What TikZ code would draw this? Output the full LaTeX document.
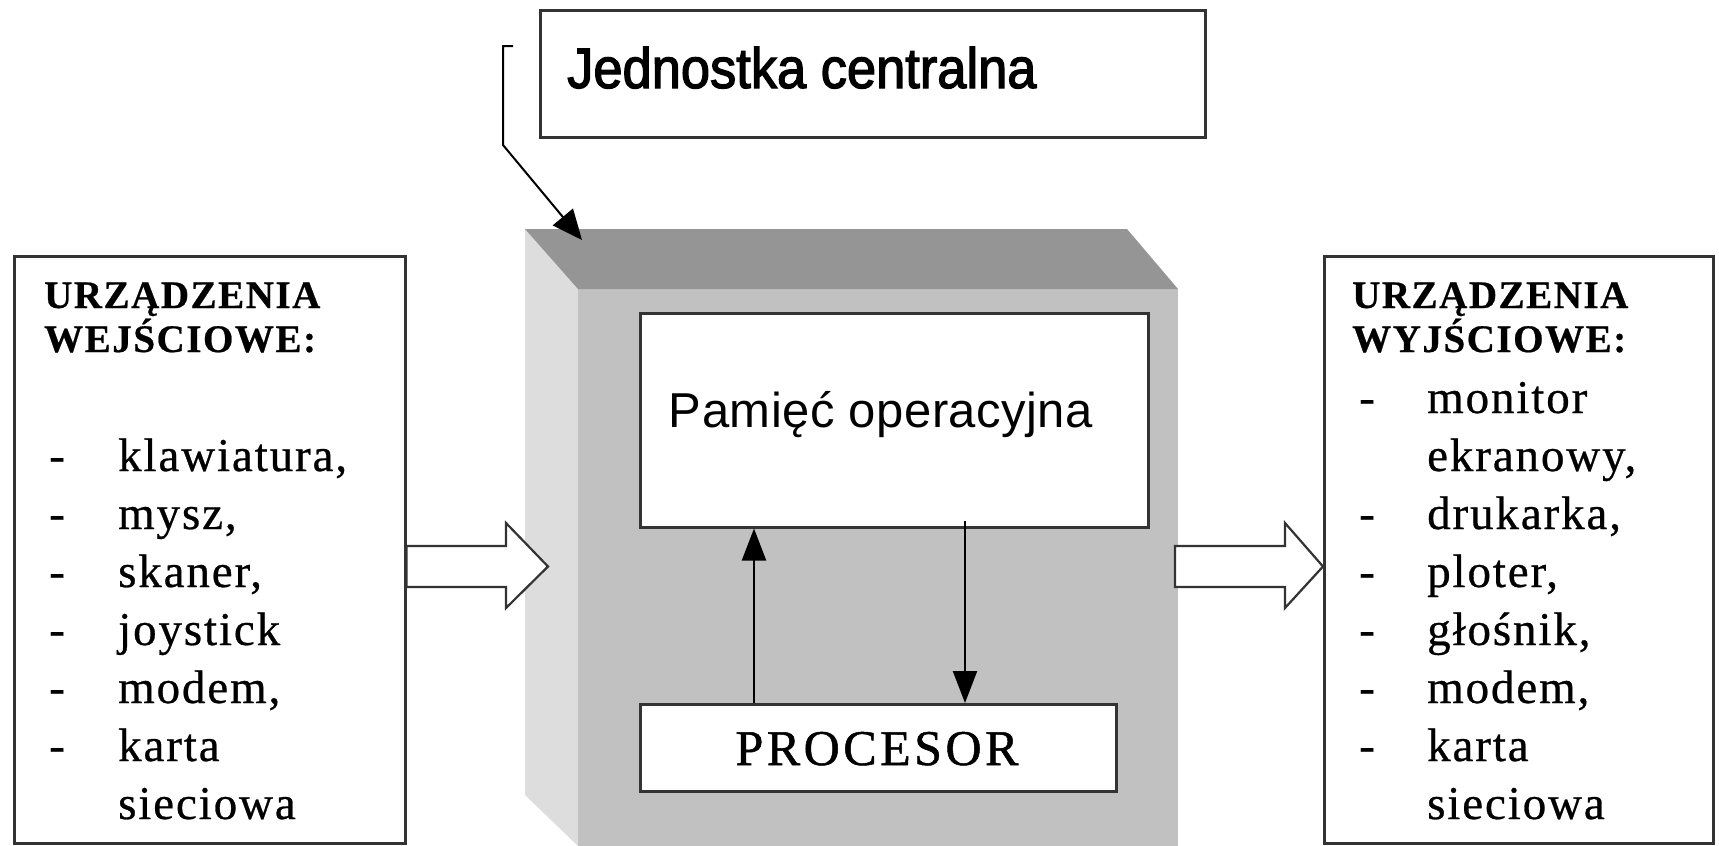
\documentclass[tikz,border=0pt]{standalone}
\usepackage{fontspec}
\setmainfont{Liberation Serif}
\newfontfamily\listfont[LetterSpace=4,FakeBold=0.6]{Liberation Serif}
\newfontfamily\procfont[LetterSpace=7,FakeBold=1]{Liberation Serif}
\newfontfamily\jcfont[FakeStretch=0.92,FakeBold=2.2]{Liberation Sans}
\newfontfamily\pamfont[LetterSpace=1]{Liberation Sans}
\usetikzlibrary{arrows.meta}
\definecolor{topface}{HTML}{959595}
\definecolor{leftface}{HTML}{DDDDDD}
\definecolor{frontface}{HTML}{C1C1C1}
\definecolor{edge}{HTML}{333333}
\tikzset{
  box/.style={draw=edge, line width=2.5pt, fill=white, inner sep=0pt, anchor=north west},
  txt/.style={inner sep=0pt, anchor=base west, text=black},
  listtxt/.style={txt, font=\listfont\fontsize{47}{58}\selectfont},
  headtxt/.style={txt, font=\listfont\bfseries\fontsize{39}{44}\selectfont},
  flow/.style={line width=2.2pt, draw=black, -{Triangle[length=32pt,width=24pt]}},
  hollow/.style={draw=edge, line width=2.2pt, fill=white, line join=miter},
}
\begin{document}
\begin{tikzpicture}[x=1pt,y=-1pt]
\useasboundingbox (0,0) rectangle (1719,846);
% 3D central unit
\fill[leftface] (525,229) -- (578,289) -- (578,846) -- (525,795) -- cycle;
\fill[frontface] (578,289) rectangle (1178,846);
\fill[topface] (525,229) -- (1127,229) -- (1178,289) -- (578,289) -- cycle;
\coordinate (ctip) at (582,240);

% boxes
\node[box, minimum width=665pt, minimum height=127pt] (jc) at (539,9) {};
\node[txt, font=\jcfont\fontsize{57}{60}\selectfont] (jct) at (567,88) {Jednostka centralna};

\node[box, minimum width=508pt, minimum height=214pt] (mem) at (639,312) {};
\node[inner sep=0pt, anchor=base, font=\pamfont\fontsize{49}{56}\selectfont] (memt) at (881,427) {Pamięć operacyjna};

\node[box, minimum width=476pt, minimum height=87pt] (proc) at (639,703) {};
\node[inner sep=0pt, anchor=base, font=\procfont\fontsize{50}{56}\selectfont] (proct) at (877,765) {PROCESOR};

\node[box, minimum width=391pt, minimum height=587pt] (inbox) at (13,255) {};
\node[box, minimum width=389pt, minimum height=587pt] (outbox) at (1323,255) {};

% input texts
\node[headtxt] (inh1) at (44,308) {URZĄDZENIA};
\node[headtxt] (inh2) at (44,352) {WEJŚCIOWE:};
\foreach \t [count=\i] in {{klawiatura,},{mysz,},{skaner,},{joystick},{modem,},{karta}}{
  \node[listtxt] (ind\i) at (49,{471+58*(\i-1)}) {-};
  \node[listtxt] (ini\i) at (118,{471+58*(\i-1)}) {\t};
}
\node[listtxt] (ini7) at (118,819) {sieciowa};

% output texts
\node[headtxt] (outh1) at (1352,308) {URZĄDZENIA};
\node[headtxt] (outh2) at (1352,352) {WYJŚCIOWE:};
\node[listtxt] (outd1) at (1359,413) {-};
\node[listtxt] (outi1) at (1427,413) {monitor};
\node[listtxt] (outi2) at (1427,471) {ekranowy,};
\foreach \t [count=\i] in {{drukarka,},{ploter,},{głośnik,},{modem,},{karta}}{
  \node[listtxt] (outd\i x) at (1359,{529+58*(\i-1)}) {-};
  \node[listtxt] (outi\i x) at (1427,{529+58*(\i-1)}) {\t};
}
\node[listtxt] (outi8) at (1427,819) {sieciowa};

% callout
\coordinate (cs) at (513,46);
\coordinate (cb) at (503,46);
\coordinate (cc) at (503,145);
\draw[line width=2pt, -{Triangle[length=30pt,width=26pt]}] (cs) -- (cb) -- (cc) -- (ctip);

% internal arrows
\coordinate (ux) at (754,0);
\coordinate (dx) at (965,521);
\draw[flow] (proc.north -| ux) -- (mem.south -| ux);
\draw[flow] (dx) -- (proc.north -| dx);

% hollow arrows
\draw[hollow] (inbox.east |- 0,546) -- (506,546) -- (506,523) -- (548,566.5) -- (506,608) -- (506,587) -- (inbox.east |- 0,587) -- cycle;
\draw[hollow] (1175,546) -- (1285,546) -- (1285,523) -- (outbox.west |- 0,566.5) -- (1285,608) -- (1285,587) -- (1175,587) -- cycle;
\end{tikzpicture}
\end{document}
